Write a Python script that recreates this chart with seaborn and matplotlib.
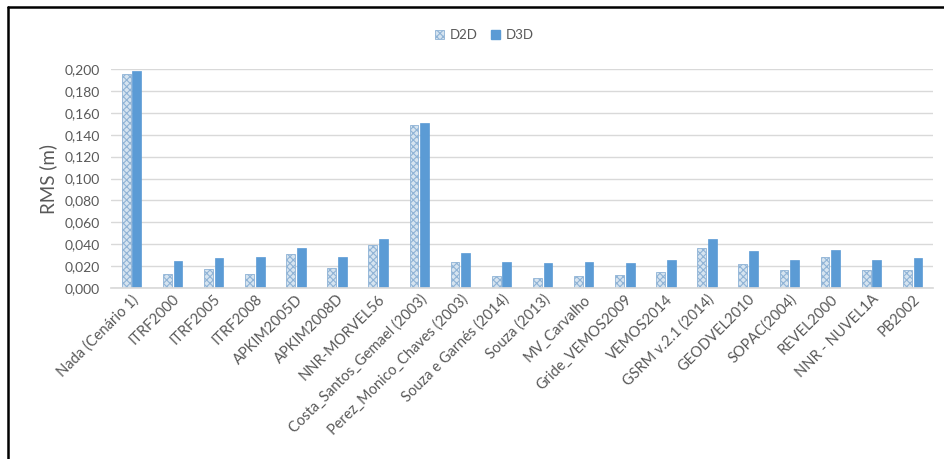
import matplotlib
matplotlib.use("Agg")
import matplotlib.pyplot as plt
import seaborn as sns
import pandas as pd
from matplotlib.patches import Rectangle
from matplotlib.lines import Line2D
from matplotlib.ticker import FuncFormatter, MultipleLocator

categories = ["Nada (Cenário 1)", "ITRF2000", "ITRF2005", "ITRF2008", "APKIM2005D",
              "APKIM2008D", "NNR-MORVEL56", "Costa_Santos_Gemael (2003)",
              "Perez_Monico_Chaves (2003)", "Souza e Garnés (2014)", "Souza (2013)",
              "MV_Carvalho", "Gride_VEMOS2009", "VEMOS2014", "GSRM v.2.1 (2014)",
              "GEODVEL2010", "SOPAC(2004)", "REVEL2000", "NNR - NUVEL1A", "PB2002"]
d2d = [0.195, 0.013, 0.017, 0.013, 0.031, 0.018, 0.039, 0.149, 0.024, 0.011,
       0.009, 0.011, 0.012, 0.015, 0.037, 0.022, 0.016, 0.028, 0.016, 0.016]
d3d = [0.198, 0.025, 0.027, 0.028, 0.037, 0.028, 0.045, 0.151, 0.032, 0.024,
       0.023, 0.024, 0.023, 0.026, 0.045, 0.034, 0.026, 0.035, 0.026, 0.027]
series = ["D2D", "D3D"]

df = pd.DataFrame({
    "cat": categories * 2,
    "val": d2d + d3d,
    "serie": [series[0]] * len(categories) + [series[1]] * len(categories),
})

sns.set_theme(style="white")
plt.rcParams["font.family"] = ["Lato", "DejaVu Sans"]
plt.rcParams["hatch.color"] = "#8aa9c6"
plt.rcParams["hatch.linewidth"] = 0.8

fig = plt.figure(figsize=(9.44, 4.59), dpi=100)
ax = fig.add_axes([0.1175, 0.3725, 0.871, 0.4772])

blue = "#5b9bd5"
sns.barplot(data=df, x="cat", y="val", hue="serie", order=categories,
            hue_order=series, palette={"D2D": "#d6e4f0", "D3D": blue},
            width=0.52, gap=0.18, ax=ax, legend=False, errorbar=None,
            saturation=1)

n = len(categories)
for i, p in enumerate(ax.patches[:2 * n]):
    if i < n:
        p.set_hatch("xxxxx")
        p.set_edgecolor("#8fb3d6")
        p.set_linewidth(0.6)
    else:
        p.set_edgecolor(blue)
        p.set_linewidth(0.5)

ax.set_ylim(0, 0.2)
ax.set_xlim(-0.5, n - 0.5)
ax.yaxis.set_major_locator(MultipleLocator(0.02))
ax.yaxis.set_major_formatter(FuncFormatter(lambda v, p: f"{v:.3f}".replace(".", ",")))
ax.grid(axis="y", color="#d9d9d9", linewidth=1)
ax.set_axisbelow(True)
for s in ["top", "right", "left"]:
    ax.spines[s].set_visible(False)
ax.spines["bottom"].set_color("#d9d9d9")
ax.tick_params(axis="both", length=0, colors="#595959")
ax.tick_params(axis="y", pad=8, labelsize=10)
ax.tick_params(axis="x", pad=3, labelsize=10.5)
plt.setp(ax.get_xticklabels(), rotation=45, ha="right", rotation_mode="anchor")
ax.set_xlabel("")
ax.set_ylabel("RMS (m)", color="#595959", fontsize=13.5, labelpad=5)

handles = [Rectangle((0, 0), 1, 1, facecolor="#d6e4f0", edgecolor="#8fb3d6",
                     hatch="xxxxx", linewidth=0.6),
           Rectangle((0, 0), 1, 1, facecolor=blue, edgecolor=blue)]
fig.legend(handles, series, loc="center", bbox_to_anchor=(0.513, 0.924),
           ncol=2, frameon=False, fontsize=9.5, labelcolor="#595959",
           handlelength=0.7, handleheight=0.7, handletextpad=0.4, columnspacing=1.0)

# outer frame (top and left edges visible)
fig.add_artist(Line2D([0.009, 1.0], [0.985, 0.985], color="black", linewidth=1.8,
                      transform=fig.transFigure))
fig.add_artist(Line2D([0.009, 0.009], [0.0, 0.985], color="black", linewidth=1.8,
                      transform=fig.transFigure))

fig.savefig("out.png", dpi=100)
